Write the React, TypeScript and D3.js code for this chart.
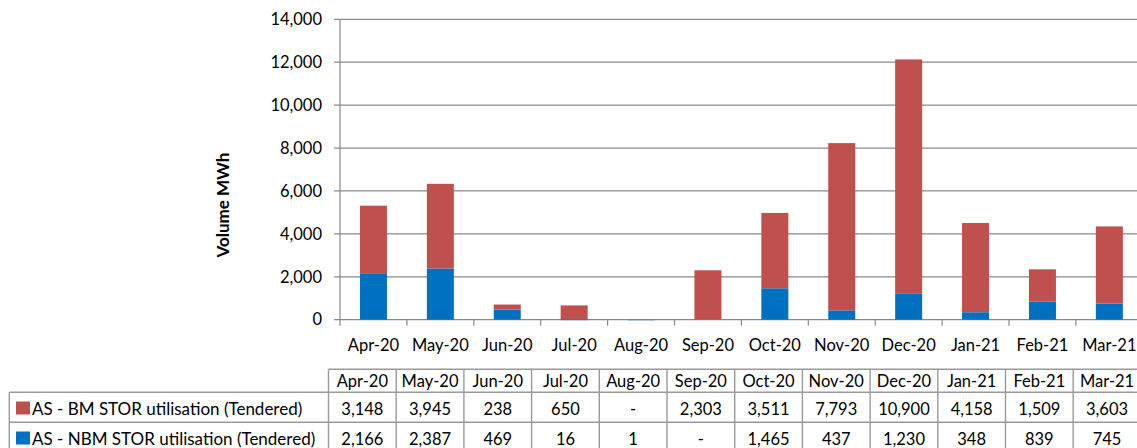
import { useEffect, useRef } from 'react'
import * as d3 from 'd3'

// Monthly STOR utilisation volumes (MWh), Apr-20 .. Mar-21
const MONTHS = ['Apr-20', 'May-20', 'Jun-20', 'Jul-20', 'Aug-20', 'Sep-20', 'Oct-20', 'Nov-20', 'Dec-20', 'Jan-21', 'Feb-21', 'Mar-21']
const BM_STOR = [3148, 3945, 238, 650, 0, 2303, 3511, 7793, 10900, 4158, 1509, 3603]
const NBM_STOR = [2166, 2387, 469, 16, 1, 0, 1465, 437, 1230, 348, 839, 745]
const Y_TICKS = [0, 2000, 4000, 6000, 8000, 10000, 12000, 14000]

const SERIES = [
  { name: 'AS - BM STOR utilisation (Tendered)', values: BM_STOR, color: '#C0504D' },
  { name: 'AS - NBM STOR utilisation (Tendered)', values: NBM_STOR, color: '#0070C0' },
]

const FONT = 'Lato, "Open Sans", sans-serif'
const GRID = '#8a8a8a'
const BORDER = '#9a9a9a'

const StorChart = () => {
  const ref = useRef<HTMLDivElement>(null)

  useEffect(() => {
    if (!ref.current) return
    ref.current.innerHTML = ''

    const W = 1137
    const H = 448
    const plot = { left: 340, top: 19.3, bottom: 319.7, step: 66.9 }
    const table = { left: 9.3, colLeft: 328.5, colW: 67.7, rows: [369.3, 392.3, 422.3, 452.3] }

    const svg = d3
      .select(ref.current)
      .append('svg')
      .attr('width', W)
      .attr('height', H)
      .style('display', 'block')
      .style('font-family', FONT)

    const x = d3
      .scaleBand<string>()
      .domain(MONTHS)
      .range([plot.left, plot.left + plot.step * MONTHS.length])
      .padding(0)
    const y = d3.scaleLinear().domain([0, 14000]).range([plot.bottom, plot.top])

    // Gridlines + y tick marks
    svg
      .append('g')
      .selectAll('line')
      .data(Y_TICKS)
      .enter()
      .append('line')
      .attr('x1', plot.left - 6)
      .attr('x2', W)
      .attr('y1', (d) => y(d))
      .attr('y2', (d) => y(d))
      .attr('stroke', GRID)
      .attr('stroke-width', 1.2)

    // Y axis line
    svg
      .append('line')
      .attr('x1', plot.left)
      .attr('x2', plot.left)
      .attr('y1', y(14000))
      .attr('y2', y(0))
      .attr('stroke', GRID)
      .attr('stroke-width', 1.2)

    // Y tick labels
    svg
      .append('g')
      .selectAll('text')
      .data(Y_TICKS)
      .enter()
      .append('text')
      .attr('x', 322)
      .attr('y', (d) => y(d))
      .attr('dy', '0.35em')
      .attr('text-anchor', 'end')
      .style('font-size', '16.5px')
      .style('fill', '#000')
      .text((d) => d3.format(',')(d))

    // X tick marks at category boundaries
    svg
      .append('g')
      .selectAll('line')
      .data(d3.range(MONTHS.length + 1))
      .enter()
      .append('line')
      .attr('x1', (i) => plot.left + i * plot.step)
      .attr('x2', (i) => plot.left + i * plot.step)
      .attr('y1', y(0))
      .attr('y2', y(0) + 6)
      .attr('stroke', GRID)
      .attr('stroke-width', 1.2)

    // Stacked bars: NBM at the bottom, BM on top
    const barW = 27
    MONTHS.forEach((m, i) => {
      const cx = (x(m) as number) + x.bandwidth() / 2
      const nbm = NBM_STOR[i]
      const bm = BM_STOR[i]
      if (nbm > 0) {
        svg
          .append('rect')
          .attr('x', cx - barW / 2)
          .attr('width', barW)
          .attr('y', y(nbm))
          .attr('height', Math.max(y(0) - y(nbm), 0.8))
          .attr('fill', SERIES[1].color)
          .attr('fill-opacity', nbm < 10 ? 0.5 : 1)
      }
      if (bm > 0) {
        svg
          .append('rect')
          .attr('x', cx - barW / 2)
          .attr('width', barW)
          .attr('y', y(nbm + bm))
          .attr('height', y(nbm) - y(nbm + bm))
          .attr('fill', SERIES[0].color)
      }
    })

    // Category labels
    svg
      .append('g')
      .selectAll('text')
      .data(MONTHS)
      .enter()
      .append('text')
      .attr('x', (d) => (x(d) as number) + x.bandwidth() / 2)
      .attr('y', 351)
      .attr('text-anchor', 'middle')
      .style('font-size', '16.5px')
      .style('fill', '#000')
      .text((d) => d)

    // Y axis title
    svg
      .append('text')
      .attr('transform', 'translate(229,205) rotate(-90)')
      .attr('text-anchor', 'middle')
      .style('font-size', '17px')
      .style('font-weight', '700')
      .style('fill', '#000')
      .text('Volume MWh')

    // Data table
    const tg = svg.append('g')
    const colX = (i: number) => table.colLeft + i * table.colW
    const right = colX(MONTHS.length)
    const [r0, r1, r2, r3] = table.rows

    // horizontal borders
    tg.append('line').attr('x1', table.colLeft).attr('x2', right).attr('y1', r0).attr('y2', r0)
    ;[r1, r2].forEach((ry) => {
      tg.append('line').attr('x1', table.left).attr('x2', right).attr('y1', ry).attr('y2', ry)
    })
    tg.append('line').attr('x1', table.left).attr('x2', right).attr('y1', r3).attr('y2', r3)
    // vertical borders
    tg.append('line').attr('x1', table.left).attr('x2', table.left).attr('y1', r1).attr('y2', r3)
    d3.range(MONTHS.length + 1).forEach((i) => {
      tg.append('line').attr('x1', colX(i)).attr('x2', colX(i)).attr('y1', r0).attr('y2', r3)
    })
    tg.selectAll('line').attr('stroke', BORDER).attr('stroke-width', 1.4)

    // header row
    tg.append('g')
      .selectAll('text')
      .data(MONTHS)
      .enter()
      .append('text')
      .attr('x', (_, i) => colX(i) + table.colW / 2)
      .attr('y', 387)
      .attr('text-anchor', 'middle')
      .style('font-size', '16.5px')
      .text((d) => d)

    const fmt = (v: number) => (v === 0 ? '-' : d3.format(',')(v))
    const baselines = [415, 445]
    SERIES.forEach((s, si) => {
      const by = baselines[si]
      tg.append('rect')
        .attr('x', 16)
        .attr('y', by - 13.5)
        .attr('width', 14)
        .attr('height', 13)
        .attr('fill', s.color)
      tg.append('text')
        .attr('x', 32)
        .attr('y', by)
        .style('font-size', '17px')
        .text(s.name)
      tg.append('g')
        .selectAll('text')
        .data(s.values)
        .enter()
        .append('text')
        .attr('x', (_, i) => colX(i) + table.colW / 2)
        .attr('y', by)
        .attr('text-anchor', 'middle')
        .style('font-size', '16.5px')
        .text((d) => fmt(d))
    })
  }, [])

  return (
    <div
      ref={ref}
      style={{ position: 'absolute', left: 0, top: 0, width: 1137, height: 448, overflow: 'hidden', background: '#fff' }}
    />
  )
}

export default function App() {
  return <StorChart />
}
